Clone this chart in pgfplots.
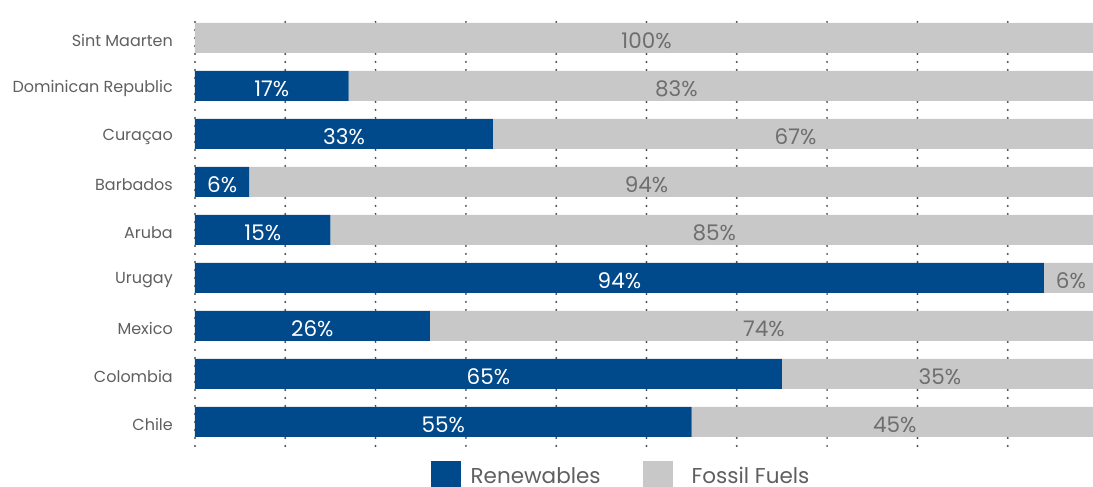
\documentclass[border=0pt]{standalone}
\usepackage{pgfplots}
\pgfplotsset{compat=1.18}
\usepackage{fontspec}
\setmainfont{Poppins}
\definecolor{renew}{HTML}{00498A}
\definecolor{fossil}{HTML}{C8C8C8}
\definecolor{labgray}{HTML}{5F5F5F}
\definecolor{valgray}{HTML}{6E6E6E}
\definecolor{dotgray}{HTML}{4A4A4A}
\begin{document}
\begin{tikzpicture}
\begin{axis}[name=ax, scale only axis, width=903pt, height=432pt,
  xbar stacked, bar width=30pt,
  xmin=0, xmax=100, ymin=-0.5, ymax=8.5,
  axis line style={draw=none}, major tick length=0pt,
  xtick={0,10,...,100}, xticklabels={},
  xmajorgrids, grid style={dotgray, line width=2.2pt, line cap=round, dash pattern=on 0pt off 8pt},
  ytick={0,...,8},
  yticklabels={Chile,Colombia,Mexico,Urugay,Aruba,Barbados,Curaçao,Dominican Republic,Sint Maarten},
  yticklabel style={font=\fontsize{16}{19}\selectfont, text=labgray, inner sep=0pt, xshift=-22pt, yshift=-2.5pt},
  legend style={at={(0.4718,0)}, anchor=center, yshift=-30pt, legend columns=2, draw=none, fill=none,
    font=\fontsize{21.5}{24}\selectfont, text=labgray,
    /tikz/column 1/.style={column sep=8pt},
    /tikz/column 2/.style={column sep=40pt},
    /tikz/column 3/.style={column sep=17pt}},
  legend image code/.code={\fill[#1] (0pt,-15pt) rectangle (30pt,15pt);},
]
\addplot[fill=renew, draw=none] coordinates {(55,0) (65,1) (26,2) (94,3) (15,4) (6,5) (33,6) (17,7) (0,8)};
\addplot[fill=fossil, draw=none] coordinates {(45,0) (35,1) (74,2) (6,3) (85,4) (94,5) (67,6) (83,7) (100,8)};
\legend{Renewables, Fossil Fuels}
\end{axis}
\begin{axis}[scale only axis, width=903pt, height=432pt,
  xmin=0, xmax=100, ymin=-0.5, ymax=8.5, hide axis,
  nodes near coords, point meta=explicit symbolic,
  nodes near coords align=center]
\addplot[draw=none, mark=none, every node near coord/.append style={anchor=center, yshift=-2.5pt, text=white, font=\fontsize{21.5}{24}\selectfont}]
  table[meta=lab] {
x y lab
27.5 0 55\%
32.5 1 65\%
13 2 26\%
47 3 94\%
7.5 4 15\%
3 5 6\%
16.5 6 33\%
8.5 7 17\%
};
\addplot[draw=none, mark=none, every node near coord/.append style={anchor=center, yshift=-2.5pt, text=valgray, font=\fontsize{21.5}{24}\selectfont}]
  table[meta=lab] {
x y lab
77.5 0 45\%
82.5 1 35\%
63 2 74\%
97 3 6\%
57.5 4 85\%
50 5 94\%
66.5 6 67\%
53.3 7 83\%
50 8 100\%
};
\end{axis}
\pgfresetboundingbox
\useasboundingbox ([xshift=-195pt, yshift=-41pt]ax.south west) rectangle ([xshift=-5pt, yshift=14pt]ax.north east);
\end{tikzpicture}
\end{document}
